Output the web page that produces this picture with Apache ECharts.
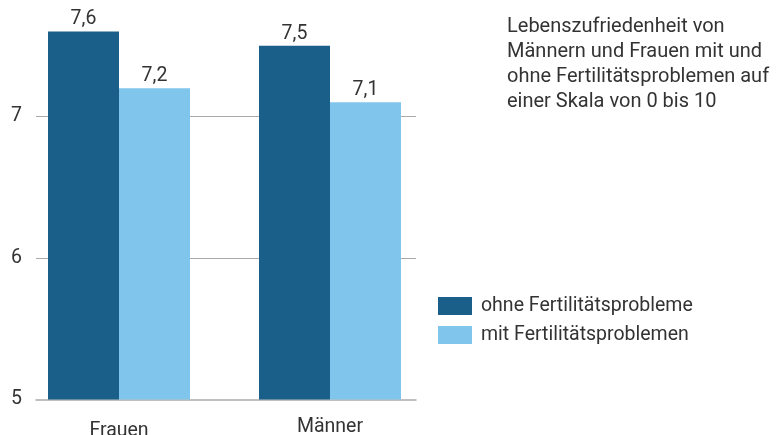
<!DOCTYPE html>
<html><head><meta charset="utf-8">
<script src="https://cdn.jsdelivr.net/npm/echarts@6/dist/echarts.min.js"></script>
<style>html,body{margin:0;padding:0;background:#fff}#c{width:781px;height:435px}</style>
</head><body><div id="c"></div>
<script>
const categories = ['Frauen', 'Männer'];
const seriesNames = ['ohne Fertilitätsprobleme', 'mit Fertilitätsproblemen'];
const ohne = [7.6, 7.5];
const mit = [7.2, 7.1];
const yTicks = [5, 6, 7];
const gridValues = [6, 7];
const titleText = 'Lebenszufriedenheit von\nMännern und Frauen mit und\nohne Fertilitätsproblemen auf\neiner Skala von 0 bis 10';

const FONT = 'Roboto';
const FS = 19.5;
const TXT = '#333333';
const DARK = '#1a5e8a';
const LIGHT = '#80c6ec';
const GRID_GRAY = '#aaaaaa';
const Y_MIN = 5, Y_MAX = 7.8233;

const chart = echarts.init(document.getElementById('c'), null, {renderer: 'canvas'});
const labelFmt = v => String(v.value !== undefined ? v.value : v).replace('.', ',');
chart.setOption({
  animation: false,
  textStyle: {fontFamily: FONT},
  title: {
    text: titleText, left: 507, top: 14, padding: 0,
    textStyle: {fontFamily: FONT, fontSize: 20, fontWeight: 'normal', color: TXT, lineHeight: 25.2}
  },
  legend: {
    orient: 'vertical', left: 438, top: 296, padding: 0,
    itemWidth: 34, itemHeight: 18, itemGap: 9,
    icon: 'rect',
    data: seriesNames,
    textStyle: {fontFamily: FONT, fontSize: FS, color: TXT, lineHeight: 18, padding: [0, 0, 0, 4]}
  },
  grid: [
    {left: 36, right: 365, top: 0, bottom: 35.5, containLabel: false, outerBoundsMode: 'none'},
    {left: 13.5, right: 345.5, top: 0, bottom: 35.5, containLabel: false, outerBoundsMode: 'none'}
  ],
  xAxis: [
    {gridIndex: 0, type: 'category', data: categories,
     axisLine: {show: true, lineStyle: {color: GRID_GRAY, width: 1.5}},
     axisTick: {show: false}, axisLabel: {show: false}},
    {gridIndex: 1, type: 'category', data: categories,
     axisLine: {show: false}, axisTick: {show: false},
     axisLabel: {show: true, margin: 18, fontFamily: FONT, fontSize: FS, color: TXT,
       formatter: v => v === categories[0] ? '{a|' + v + '}' : '{b|' + v + '}',
       rich: {a: {fontFamily: FONT, fontSize: FS, color: TXT, padding: [4, 0, 0, 0]},
              b: {fontFamily: FONT, fontSize: FS, color: TXT}}}}
  ],
  yAxis: [
    {gridIndex: 0, type: 'value', min: Y_MIN, max: Y_MAX, interval: 1,
     axisLine: {show: false}, axisTick: {show: false},
     axisLabel: {margin: 14, fontFamily: FONT, fontSize: FS, color: TXT,
       showMaxLabel: false,
       formatter: v => yTicks.includes(v) ? String(v) : ''},
     splitLine: {show: false}},
    {gridIndex: 1, type: 'value', min: Y_MIN, max: Y_MAX, interval: 1, show: false,
     splitLine: {show: false}}
  ],
  series: [
    {type: 'line', xAxisIndex: 0, yAxisIndex: 0, data: [], z: 1, silent: true,
     markLine: {silent: true, symbol: ['none', 'none'], z: 1, label: {show: false},
       lineStyle: {color: GRID_GRAY, width: 1.2, type: 'solid'},
       data: gridValues.map(v => ({yAxis: v}))}},
    {name: seriesNames[0], type: 'bar', xAxisIndex: 1, yAxisIndex: 1, data: ohne, z: 10,
     barWidth: 71, barGap: '0%', itemStyle: {color: DARK},
     label: {show: true, position: 'top', distance: 2, formatter: labelFmt,
       fontFamily: FONT, fontSize: FS, color: TXT}},
    {name: seriesNames[1], type: 'bar', xAxisIndex: 1, yAxisIndex: 1, data: mit, z: 10,
     barWidth: 71, barGap: '0%', itemStyle: {color: LIGHT},
     label: {show: true, position: 'top', distance: 2, formatter: labelFmt,
       fontFamily: FONT, fontSize: FS, color: TXT}}
  ]
});
</script></body></html>
